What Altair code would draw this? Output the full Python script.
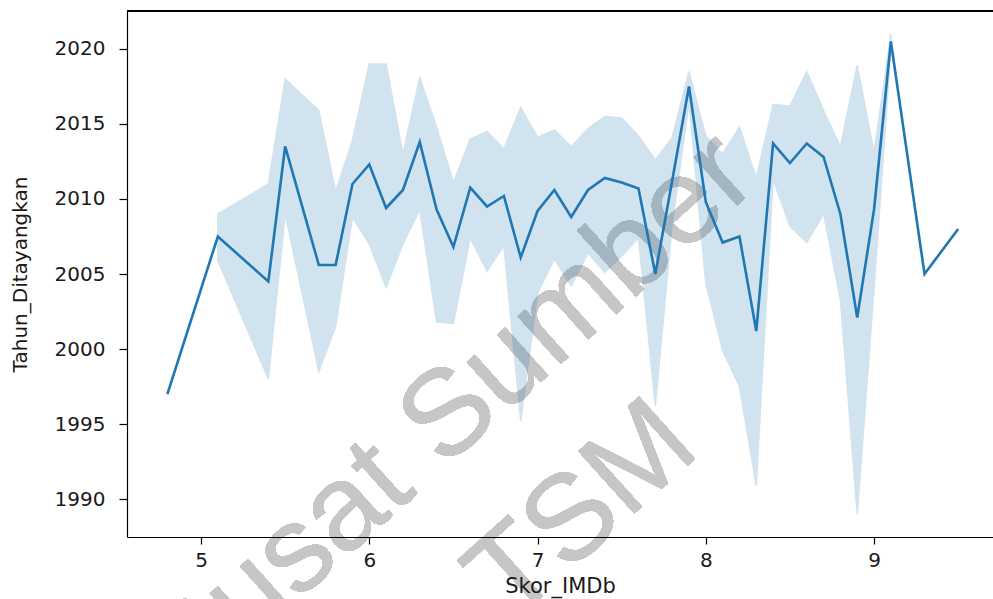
import altair as alt
import pandas as pd

# IMDb score (x) values present in the data
skor = [4.8, 5.1, 5.4, 5.5, 5.7, 5.8, 5.9, 6.0, 6.1, 6.2, 6.3, 6.4, 6.5, 6.6,
        6.7, 6.8, 6.9, 7.0, 7.1, 7.2, 7.3, 7.4, 7.5, 7.6, 7.7, 7.8, 7.9, 8.0,
        8.1, 8.2, 8.3, 8.4, 8.5, 8.6, 8.7, 8.8, 8.9, 9.0, 9.1, 9.3, 9.5]

# mean release year per score
tahun_mean = [1997.0, 2007.5, 2004.5, 2013.5, 2005.6, 2005.6, 2011.0, 2012.3,
              2009.4, 2010.6, 2013.8, 2009.3, 2006.8, 2010.75, 2009.5, 2010.2,
              2006.1, 2009.2, 2010.6, 2008.8, 2010.6, 2011.4, 2011.1, 2010.7,
              2005.0, 2011.2, 2017.5, 2009.8, 2007.1, 2007.5, 2001.2, 2013.7,
              2012.4, 2013.7, 2012.8, 2009.0, 2002.1, 2009.3, 2020.5, 2005.0,
              2008.0]

# 95% confidence interval (None where there is a single observation)
ci_low = [None, 2005.9, 1998.0, 2009.0, 1998.5, 2001.5, 2008.8, 2007.0,
          2004.1, 2007.0, 2009.3, 2001.8, 2001.7, 2007.4, 2005.2, 2006.9,
          1995.2, 2003.7, 2006.0, 2004.2, 2006.4, 2005.1, 2006.2, 2007.4,
          1996.2, 2008.3, 2016.4, 2004.4, 1999.9, 1997.5, 1990.9, 2011.3,
          2008.2, 2007.1, 2009.0, 2003.3, 1989.0, 2004.0, 2020.0, None, None]
ci_high = [None, 2009.0, 2011.0, 2018.0, 2015.9, 2010.5, 2013.9, 2019.0,
           2019.0, 2013.0, 2018.1, 2014.8, 2011.1, 2014.0, 2014.5, 2013.35,
           2016.1, 2014.1, 2014.6, 2013.5, 2014.7, 2015.5, 2015.4, 2014.2,
           2012.6, 2014.1, 2018.5, 2014.2, 2013.0, 2014.8, 2011.4, 2016.3,
           2016.2, 2018.5, 2015.9, 2013.5, 2018.9, 2013.1, 2021.0, None, None]

x_ticks = [5, 6, 7, 8, 9]
y_ticks = [1990, 1995, 2000, 2005, 2010, 2015, 2020]

df = pd.DataFrame({"Skor_IMDb": skor, "Tahun": tahun_mean,
                   "lo": ci_low, "hi": ci_high})
band_df = df.dropna(subset=["lo", "hi"])

W, H = 866, 526
xscale = alt.Scale(domain=[4.56, 9.707], nice=False, zero=False)
yscale = alt.Scale(domain=[1987.47, 2022.53], nice=False, zero=False)

x_axis = alt.Axis(values=x_ticks, format="d", title="Skor_IMDb", grid=False,
                  tickSize=7, tickWidth=1.2, tickColor="black",
                  domainColor="black", domainWidth=1.2, zindex=1,
                  labelPadding=6, titlePadding=5, titleFontSize=21)
y_axis = alt.Axis(values=y_ticks, format="d", title="Tahun_Ditayangkan",
                  grid=False, tickSize=8, tickWidth=1.2, tickColor="black",
                  domainColor="black", domainWidth=1.2, zindex=1,
                  labelPadding=14, titlePadding=24, titleFontSize=20)

wm1 = alt.Chart(df).mark_text(
    text="Pusat Sumber", angle=318, fontSize=122, font="Liberation Sans",
    color="#c6c6c6", align="center", baseline="middle"
).encode(x=alt.value(322), y=alt.value(404))

wm2 = alt.Chart(df).mark_text(
    text="TSM", angle=318, fontSize=122, font="Liberation Sans",
    color="#c6c6c6", align="center", baseline="middle"
).encode(x=alt.value(455), y=alt.value(500))

band = alt.Chart(band_df).mark_area(
    color="#1f77b4", opacity=0.2, stroke="#1f77b4", strokeWidth=1.5
).encode(
    x=alt.X("Skor_IMDb:Q", scale=xscale, axis=x_axis),
    y=alt.Y("lo:Q", scale=yscale, axis=y_axis),
    y2="hi:Q",
)

line = alt.Chart(df).mark_line(color="#1f77b4", strokeWidth=2.6).encode(
    x=alt.X("Skor_IMDb:Q", scale=xscale),
    y=alt.Y("Tahun:Q", scale=yscale),
)

top_spine = alt.Chart(df).mark_rule(color="black", strokeWidth=1.2).encode(
    x=alt.value(0), x2=alt.value(W), y=alt.value(0)
)

chart = alt.layer(wm1, wm2, band, line, top_spine).properties(
    width=W, height=H,
    autosize=alt.AutoSizeParams(type="none"),
    padding={"left": 127, "top": 11, "right": 0, "bottom": 62},
).configure_view(stroke=None).configure_axis(
    labelFont="DejaVu Sans", labelFontSize=20, labelColor="#1a1a1a",
    titleFont="DejaVu Sans", titleFontWeight="normal",
    titleColor="#1a1a1a",
)

chart.save("out.html", embed_options={"renderer": "svg", "actions": False})
